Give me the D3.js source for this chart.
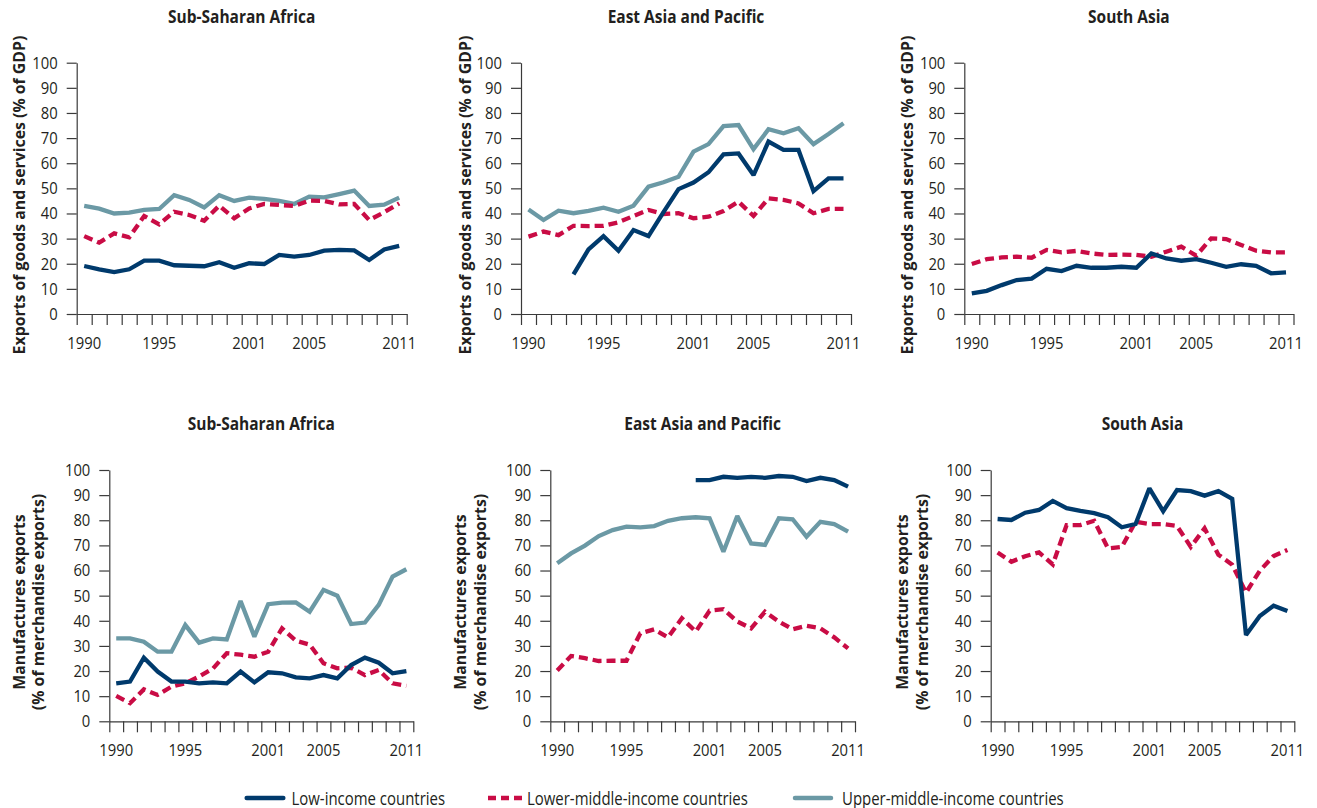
<!DOCTYPE html>
<html>
<head>
<meta charset="utf-8">
<script src="https://cdn.jsdelivr.net/npm/d3@7"></script>
<style>
  html, body { margin: 0; padding: 0; background: #fff; }
  svg { display: block; }
  text { font-family: 'Open Sans', 'Noto Sans', sans-serif; fill: #231f20; }
</style>
</head>
<body>
<svg id="chart" width="1317" height="808"></svg>
<script>
// ---------------- DATA ----------------
const years = [1990,1991,1992,1993,1994,1995,1996,1997,1998,1999,2000,2001,2002,2003,2004,2005,2006,2007,2008,2009,2010,2011];
const tickYears = [1990,1995,2001,2005,2011];
const regions = ["Sub-Saharan Africa", "East Asia and Pacific", "South Asia"];
const seriesNames = ["Low-income countries", "Lower-middle-income countries", "Upper-middle-income countries"];
const yTicks = [0,10,20,30,40,50,60,70,80,90,100];
const yLabelTop = ["Exports of goods and services (% of GDP)"];
const yLabelBottom = ["Manufactures exports", "(% of merchandise exports)"];

// Exports of goods and services (% of GDP)
const ssaExpLow   = [19.1,17.8,16.7,17.8,21.2,21.2,19.4,19.2,19.0,20.6,18.4,20.2,19.9,23.5,22.8,23.5,25.2,25.5,25.3,21.5,25.7,27.1];
const ssaExpLower = [31.0,28.4,32.1,30.5,39.0,35.7,40.7,39.4,37.1,43.1,38.1,42.0,43.8,43.4,43.0,45.1,45.0,43.6,43.8,37.4,40.5,44.0];
const ssaExpUpper = [43.0,41.9,40.0,40.3,41.4,41.8,47.3,45.4,42.4,47.3,45.0,46.3,45.8,45.0,43.8,46.7,46.4,47.7,49.1,43.0,43.5,46.3];

const eapExpLow   = [null,null,null,15.8,25.7,31.0,25.2,33.4,31.0,40.5,49.7,52.3,56.4,63.5,63.9,55.3,68.6,65.3,65.3,48.9,54.0,54.0];
const eapExpLower = [30.8,32.8,31.4,35.1,35.0,35.1,36.5,39.0,41.4,39.8,40.1,38.1,38.7,41.0,44.7,39.0,46.0,45.4,44.0,40.1,41.8,41.8];
const eapExpUpper = [41.6,37.4,41.1,40.1,41.0,42.3,40.7,43.1,50.7,52.4,54.6,64.6,67.6,74.8,75.2,65.6,73.5,71.9,73.9,67.6,71.6,75.9];

const saExpLow    = [8.2,9.2,11.5,13.5,14.1,18.0,17.1,19.2,18.4,18.4,18.8,18.4,24.1,22.1,21.2,21.8,20.4,18.8,19.8,19.2,16.2,16.6];
const saExpLower  = [19.9,21.8,22.5,22.8,22.4,25.5,24.5,25.1,24.1,23.5,23.6,23.5,22.8,24.8,26.8,23.2,30.1,29.8,27.5,25.2,24.5,24.5];

// Manufactures exports (% of merchandise exports)
const ssaManLow   = [15.1,15.8,25.3,19.8,15.8,15.8,15.1,15.5,15.1,19.8,15.5,19.5,19.1,17.5,17.1,18.4,17.1,22.4,25.3,23.3,19.1,20.0];
const ssaManLower = [10.1,7.2,12.7,10.5,13.8,15.1,17.8,21.0,27.1,26.5,25.7,27.7,37.0,32.1,30.5,23.1,21.1,21.3,18.4,20.4,15.1,14.1];
const ssaManUpper = [33.0,33.0,31.7,27.7,27.7,38.3,31.3,33.0,32.6,47.9,33.7,46.6,47.2,47.3,43.6,52.3,50.0,38.7,39.3,46.3,57.6,60.5];

const eapManLow   = [null,null,null,null,null,null,null,null,null,null,96.0,96.0,97.3,96.9,97.3,96.9,97.6,97.3,95.6,96.9,96.0,93.4];
const eapManLower = [20.2,26.0,25.1,24.0,24.1,24.1,35.0,36.6,33.4,41.0,35.7,44.0,44.6,39.7,37.0,43.6,39.7,36.6,38.0,37.0,33.4,29.0];
const eapManUpper = [62.9,66.8,69.9,73.7,76.1,77.5,77.2,77.7,79.8,80.8,81.2,80.8,67.5,81.7,70.8,70.2,80.8,80.4,73.5,79.4,78.5,75.5];

const saManLow    = [80.5,80.1,83.0,84.1,87.7,84.8,83.7,82.8,81.2,77.2,78.5,92.7,83.6,92.0,91.6,89.8,91.6,88.5,34.3,41.9,46.0,43.9];
const saManLower  = [67.2,63.5,65.7,67.2,62.4,78.1,78.1,79.8,68.8,69.4,79.4,78.5,78.5,77.7,69.4,76.8,66.3,62.3,51.2,59.9,65.8,68.2];

// ---------------- STYLE / LAYOUT ----------------
const colors = { low: "#003a6c", lower: "#c90c45", upper: "#6b99a5" };
const axisColor = "#3a3a3a";

const panels = [
  { title: regions[0], label: yLabelTop,    x0: 76.7,  x1: 406.7,  yTop: 62.7, yBot: 314,   titleY: 23,  labelX: 24.5,  labelY: 195,
    data: { upper: ssaExpUpper, lower: ssaExpLower, low: ssaExpLow } },
  { title: regions[1], label: yLabelTop,    x0: 521,   x1: 851,    yTop: 62.7, yBot: 314,   titleY: 23,  labelX: 471,   labelY: 195,
    data: { upper: eapExpUpper, lower: eapExpLower, low: eapExpLow } },
  { title: regions[2], label: yLabelTop,    x0: 964.3, x1: 1293.5, yTop: 62.7, yBot: 314,   titleY: 23,  labelX: 912.5, labelY: 195,
    data: { lower: saExpLower, low: saExpLow } },
  { title: regions[0], label: yLabelBottom, x0: 109.3, x1: 413.3,  yTop: 470,  yBot: 721.3, titleY: 430, labelX: 24.5,  labelY: 602,
    data: { upper: ssaManUpper, lower: ssaManLower, low: ssaManLow } },
  { title: regions[1], label: yLabelBottom, x0: 550.3, x1: 855,    yTop: 470,  yBot: 721.3, titleY: 430, labelX: 466,   labelY: 602,
    data: { upper: eapManUpper, lower: eapManLower, low: eapManLow } },
  { title: regions[2], label: yLabelBottom, x0: 990.7, x1: 1294.3, yTop: 470,  yBot: 721.3, titleY: 430, labelX: 908,   labelY: 602,
    data: { lower: saManLower, low: saManLow } }
];

// narrow the available humanist sans to mimic the condensed face of the original
function condense(sel, f) {
  sel.each(function () {
    const w = this.getComputedTextLength();
    d3.select(this).attr("textLength", w * f).attr("lengthAdjust", "spacingAndGlyphs");
  });
}

const svg = d3.select("#chart");

panels.forEach(p => {
  const g = svg.append("g");
  const x = d3.scaleBand().domain(years).range([p.x0, p.x1]).padding(0);
  const xb = d3.scaleLinear().domain([0, years.length]).range([p.x0, p.x1]);
  const y = d3.scaleLinear().domain([0, 100]).range([p.yBot, p.yTop]);

  // title
  g.append("text")
    .attr("x", (p.x0 + p.x1) / 2).attr("y", p.titleY)
    .attr("text-anchor", "middle")
    .style("font-size", "18px").style("font-weight", "bold")
    .text(p.title)
    .call(condense, 0.86);

  // y label (one text per line)
  p.label.forEach((line, i) => {
    g.append("text")
      .attr("transform", `translate(${p.labelX + i * 19.5},${p.labelY}) rotate(-90)`)
      .attr("text-anchor", "middle")
      .style("font-size", "16.5px").style("font-weight", "bold")
      .text(line)
      .call(condense, 0.96);
  });

  // y axis
  const ya = g.append("g").attr("transform", `translate(${p.x0},0)`)
    .call(d3.axisLeft(y).tickValues(yTicks).tickSize(10).tickSizeOuter(0).tickPadding(9));
  ya.selectAll("path, line").attr("stroke", axisColor).attr("stroke-width", 1.2);
  ya.selectAll("text").style("font-size", "17px").attr("fill", "#231f20").call(condense, 0.87);

  // x axis boundary ticks
  const xa = g.append("g").attr("transform", `translate(0,${p.yBot})`)
    .call(d3.axisBottom(xb).tickValues(d3.range(years.length + 1)).tickSize(11).tickSizeOuter(0).tickFormat(""));
  xa.selectAll("path, line").attr("stroke", axisColor).attr("stroke-width", 1.2);

  // x axis labels (band centers)
  const xl = g.append("g").attr("transform", `translate(0,${p.yBot})`)
    .call(d3.axisBottom(x).tickValues(tickYears).tickSize(0).tickPadding(23));
  xl.select(".domain").remove();
  xl.selectAll("text").style("font-size", "17px").attr("fill", "#231f20").call(condense, 0.87);

  // lines
  const line = d3.line()
    .defined(d => d.v !== null)
    .x(d => x(d.yr) + x.bandwidth() / 2)
    .y(d => y(d.v));

  ["upper", "lower", "low"].forEach(key => {
    const vals = p.data[key];
    if (!vals) return;
    const pts = years.map((yr, i) => ({ yr, v: vals[i] }));
    const path = g.append("path")
      .datum(pts)
      .attr("d", line)
      .attr("fill", "none")
      .attr("stroke", colors[key])
      .attr("stroke-width", 4.3)
      .attr("stroke-linejoin", "miter")
      .attr("stroke-miterlimit", 2);
    if (key === "lower") path.attr("stroke-dasharray", "9,5");
  });
});

// ---------------- LEGEND ----------------
const legendY = 798;
const legendItems = [
  { key: "low",   name: seriesNames[0], lx0: 246.7, lx1: 283.3, tx: 291.5 },
  { key: "lower", name: seriesNames[1], lx0: 488,   lx1: 523,   tx: 527 },
  { key: "upper", name: seriesNames[2], lx0: 795,   lx1: 831,   tx: 842 }
];
const lg = svg.append("g");
legendItems.forEach(it => {
  const l = lg.append("line")
    .attr("x1", it.lx0).attr("x2", it.lx1).attr("y1", legendY).attr("y2", legendY)
    .attr("stroke", colors[it.key]).attr("stroke-width", 4.5);
  if (it.key === "lower") l.attr("stroke-dasharray", "8,5");
  else l.attr("stroke-linecap", "round");
  lg.append("text").attr("x", it.tx).attr("y", legendY + 6.5)
    .style("font-size", "18px").text(it.name)
    .call(condense, 0.83);
});
</script>
</body>
</html>
